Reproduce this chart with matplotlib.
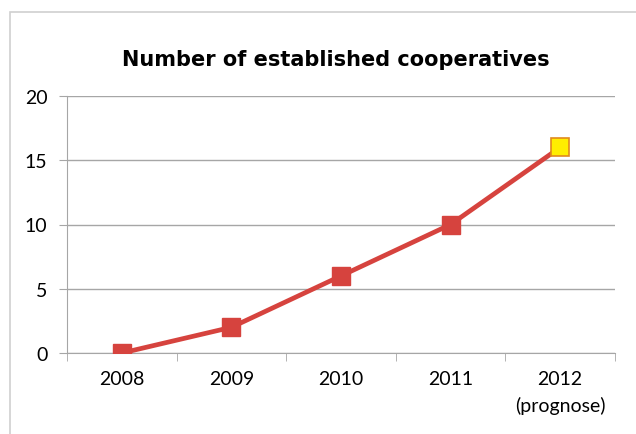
import matplotlib.pyplot as plt
from matplotlib.patches import Rectangle

years = ['2008', '2009', '2010', '2011', '2012\n(prognose)']
counts = [0, 2, 6, 10, 16]

red = '#d6433e'
grid = '#a6a6a6'

fig = plt.figure(figsize=(6.36, 4.35), dpi=100)
fig.patches.append(Rectangle((10/636, -0.1), 1.2, 1 - 13/435 + 0.1, transform=fig.transFigure,
                             fill=False, edgecolor='#d0d0d0', linewidth=1.2))
ax = fig.add_axes([67/636, 1 - 354/435, 548/636, 257/435])

x = list(range(len(years)))
ax.plot(x[:-1], counts[:-1], color=red, lw=3.4, marker='s', ms=13,
        mfc=red, mec=red, zorder=3)
ax.plot(x[-2:], counts[-2:], color=red, lw=3.4, zorder=3)
ax.plot(x[-1], counts[-1], marker='s', ms=13, mfc='#ffee00', mec='#e08a1e',
        mew=1.2, zorder=4)

ax.set_xlim(-0.5, 4.5)
ax.set_ylim(0, 20)
ax.set_yticks([0, 5, 10, 15, 20])
ax.yaxis.grid(True, color=grid, lw=1)
ax.set_axisbelow(True)
ax.set_xticks(x)
ax.set_xticklabels(years, fontfamily='Lato', fontsize=14, linespacing=1.6)
ax.set_xticks([i - 0.5 for i in range(len(years) + 1)], minor=True)
ax.tick_params(axis='x', which='major', length=0, pad=12)
ax.tick_params(axis='x', which='minor', length=6, color=grid, direction='out')
ax.tick_params(axis='y', length=6, color=grid, pad=8, labelsize=14)
for lab in ax.get_yticklabels():
    lab.set_fontfamily('Lato')
for s in ['top', 'right']:
    ax.spines[s].set_visible(False)
ax.spines['left'].set_color(grid)
ax.spines['bottom'].set_color(grid)

fig.text(336/636, 1 - 60/435, 'Number of established cooperatives', ha='center',
         va='center', fontsize=15, fontweight='bold')

fig.savefig('out.png', dpi=100)
